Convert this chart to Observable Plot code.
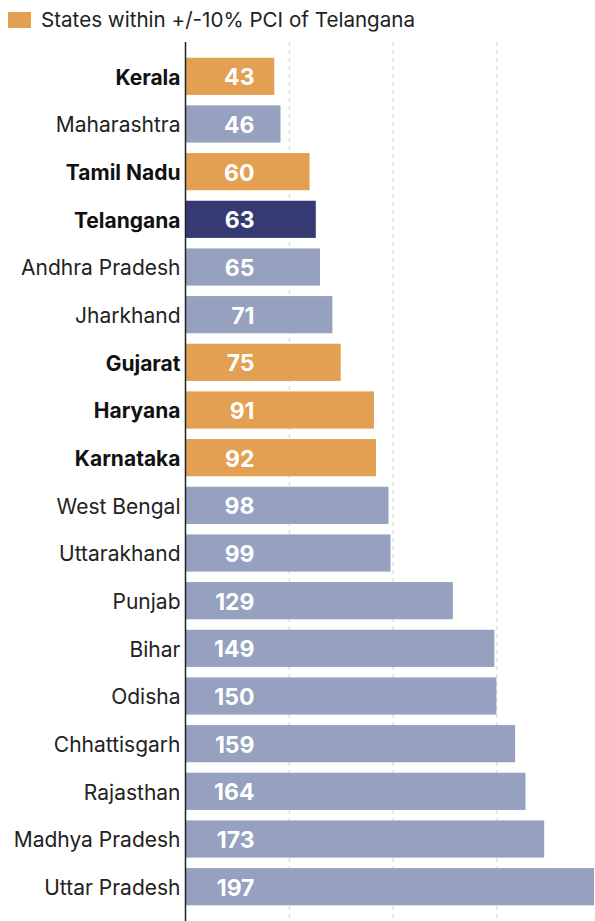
<!DOCTYPE html>
<html>
<head>
<meta charset="utf-8">
<script src="https://cdn.jsdelivr.net/npm/d3@7"></script>
<script src="https://cdn.jsdelivr.net/npm/@observablehq/plot@0.6"></script>
<style>
  body { margin: 0; background: #fff; font-family: Inter, sans-serif; }
  #legend { height: 40px; position: relative; }
  #legend .sw { position: absolute; left: 8px; top: 12px; width: 23px; height: 16px; background: #E3A052; }
  #legend .tx { position: absolute; left: 41px; top: 8px; font-size: 20.6px; line-height: 24px; color: #222; white-space: nowrap; }
  #chart svg { display: block; }
</style>
</head>
<body>
<div id="legend"><div class="sw"></div><div class="tx">States within +/-10% PCI of Telangana</div></div>
<div id="chart"></div>
<script>
const states = ["Kerala","Maharashtra","Tamil Nadu","Telangana","Andhra Pradesh","Jharkhand","Gujarat","Haryana","Karnataka","West Bengal","Uttarakhand","Punjab","Bihar","Odisha","Chhattisgarh","Rajasthan","Madhya Pradesh","Uttar Pradesh"];
const values = [43,46,60,63,65,71,75,91,92,98,99,129,149,150,159,164,173,197];
const groups = ["within","other","within","telangana","other","other","within","within","within","other","other","other","other","other","other","other","other","other"];
const gridTicks = [50,100,150];

const data = states.map((s,i) => ({state: s, value: values[i], group: groups[i]}));
const colors = {within: "#E3A052", other: "#96A0BF", telangana: "#353A72"};

const chart = Plot.plot({
  width: 595,
  height: 881,
  marginTop: 2,
  marginBottom: 0,
  marginLeft: 185,
  marginRight: 1,
  style: {fontFamily: "Inter, sans-serif"},
  x: {domain: [0,197], axis: null},
  y: {domain: states, axis: null, paddingInner: 0.22, paddingOuter: 0.33, round: false},
  marks: [
    Plot.ruleX(gridTicks, {stroke: "#d0d0d0", strokeDasharray: "4,4", strokeWidth: 1}),
    Plot.barX(data, {y: "state", x: "value", fill: d => colors[d.group]}),
    Plot.text(data, {y: "state", x: 0, text: d => String(d.value), dx: 69, dy: 1, textAnchor: "end", fill: "white", fontWeight: "bold", fontSize: 23}),
    Plot.text(data.filter(d => d.group !== "other"), {y: "state", x: 0, text: "state", dx: -5, dy: 1, textAnchor: "end", fill: "#111", fontWeight: "bold", fontSize: 21}),
    Plot.text(data.filter(d => d.group === "other"), {y: "state", x: 0, text: "state", dx: -5, dy: 1, textAnchor: "end", fill: "#222", fontSize: 21}),
    Plot.ruleX([0], {stroke: "#222", strokeWidth: 1.5})
  ]
});
document.getElementById("chart").appendChild(chart);
</script>
</body>
</html>
